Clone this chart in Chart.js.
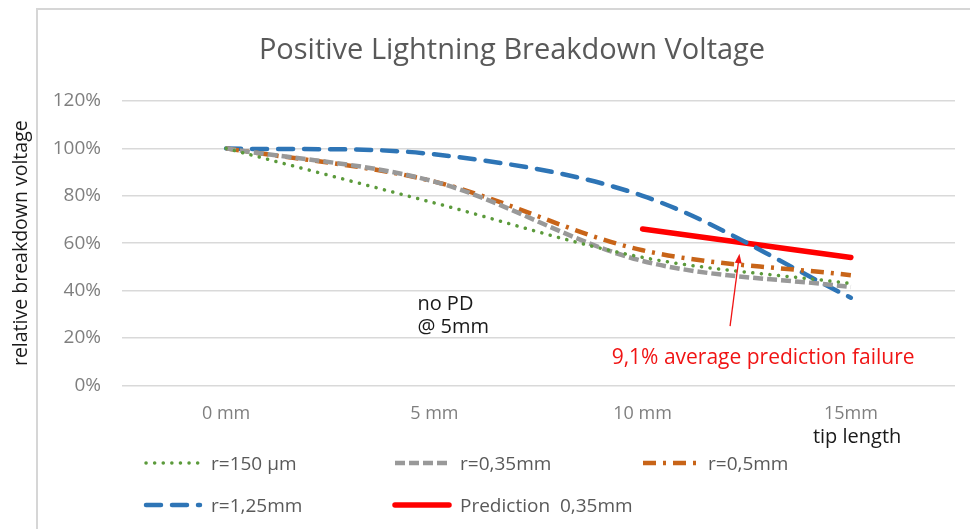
<!DOCTYPE html>
<html>
<head>
<meta charset="utf-8">
<title>Positive Lightning Breakdown Voltage</title>
<script src="https://cdn.jsdelivr.net/npm/chart.js@4.4.1/dist/chart.umd.min.js"></script>
<style>
    html, body { margin: 0; padding: 0; background: #fff; }
    #wrap { position: relative; width: 970px; height: 529px; overflow: hidden; }
    #frame {
        position: absolute; left: 36px; top: 8px; width: 980px; height: 560px;
        border-left: 2px solid #d6d6d6; border-top: 2px solid #d6d6d6;
    }
    #chart { position: absolute; left: 0; top: 0; }
    #legend { position: absolute; left: 0; top: 0; width: 970px; height: 529px; pointer-events: none; }
    .item {
        position: absolute; display: flex; align-items: center; gap: 8px;
        transform: translateY(-50%);
        font-family: "Open Sans", sans-serif; font-size: 19px; color: #595959;
        white-space: pre;
    }
    .item svg { display: block; }
</style>
</head>
<body>
<div id="wrap">
    <div id="frame"></div>
    <canvas id="chart" width="970" height="529"></canvas>
    <div id="legend"></div>
</div>
<script>
(function () {
    'use strict';

    // data (percent of the 0 mm value)
    var categories = ['0 mm', '5 mm', '10 mm', '15mm'];
    var r150um = [100, 77, 54, 43];
    var r035mm = [100, 86, 52.5, 41.5];
    var r05mm = [100, 86, 57, 46.5];
    var r125mm = [100, 97.5, 80, 37];
    var prediction035 = [null, null, 66, 54];
    var yTicks = [0, 20, 40, 60, 80, 100, 120];

    var FONT = '"Open Sans", sans-serif';

    // legend grid (Excel style, 3 columns)
    var legendCols = [143, 392, 640];
    var legendRows = [463, 505];

    // annotations, in data units (x = category index, y = percent)
    var arrowFrom = { x: 2.42, y: 25 };
    var arrowTo = { x: 2.465, y: 55.5 };

    var notes = {
        id: 'notes',
        afterDraw: function (chart) {
            var ctx = chart.ctx;
            var xs = chart.scales.x;
            var ys = chart.scales.y;
            var step = xs.getPixelForValue(3) - xs.getPixelForValue(2);
            ctx.save();

            // chart title
            ctx.fillStyle = '#595959';
            ctx.font = '29px ' + FONT;
            ctx.textAlign = 'center';
            ctx.textBaseline = 'middle';
            ctx.fillText('Positive Lightning Breakdown Voltage', 512, 51);

            // "no PD @ 5mm"
            ctx.fillStyle = '#1a1a1a';
            ctx.font = '20px ' + FONT;
            ctx.textAlign = 'left';
            var nx = xs.getPixelForValue(1) - 17;
            ctx.fillText('no PD', nx, ys.getPixelForValue(34.3));
            ctx.fillText('@ 5mm', nx, ys.getPixelForValue(24.6));

            // x axis title near the last category
            ctx.fillText('tip length', xs.getPixelForValue(3) - 38, 437);

            // prediction failure note
            ctx.fillStyle = '#f01414';
            ctx.font = '21px ' + FONT;
            ctx.fillText('9,1% average prediction failure', xs.getPixelForValue(2) - 31, ys.getPixelForValue(11.4));

            // arrow
            var x0 = xs.getPixelForValue(2) + step * (arrowFrom.x - 2);
            var x1 = xs.getPixelForValue(2) + step * (arrowTo.x - 2);
            var y0 = ys.getPixelForValue(arrowFrom.y);
            var y1 = ys.getPixelForValue(arrowTo.y);
            var a = Math.atan2(y1 - y0, x1 - x0);
            ctx.strokeStyle = '#f01414';
            ctx.fillStyle = '#f01414';
            ctx.lineWidth = 1.3;
            ctx.beginPath();
            ctx.moveTo(x0, y0);
            ctx.lineTo(x1 - Math.cos(a) * 6, y1 - Math.sin(a) * 6);
            ctx.stroke();
            ctx.beginPath();
            ctx.moveTo(x1, y1);
            ctx.lineTo(x1 - Math.cos(a - 0.35) * 10, y1 - Math.sin(a - 0.35) * 10);
            ctx.lineTo(x1 - Math.cos(a + 0.35) * 10, y1 - Math.sin(a + 0.35) * 10);
            ctx.closePath();
            ctx.fill();

            ctx.restore();
        }
    };

    function line(label, data, color, width, dash, cap) {
        return {
            label: label,
            data: data,
            borderColor: color,
            backgroundColor: color,
            borderWidth: width,
            borderDash: dash,
            borderCapStyle: cap,
            pointRadius: 0,
            tension: 0.33,
            fill: false
        };
    }

    var chart = new Chart(document.getElementById('chart'), {
        type: 'line',
        data: {
            labels: categories,
            datasets: [
                line('r=150 µm', r150um, '#5b9a3b', 3.5, [0.1, 8.5], 'round'),
                line('r=0,35mm', r035mm, '#999999', 4.5, [10, 4], 'butt'),
                line('r=0,5mm', r05mm, '#c86418', 4.5, [13, 7, 3, 7], 'butt'),
                line('r=1,25mm', r125mm, '#2e75b6', 4.5, [15, 11], 'round'),
                line('Prediction  0,35mm', prediction035, '#ff0000', 5.5, [], 'round')
            ]
        },
        options: {
            responsive: false,
            animation: false,
            layout: { padding: { top: 101, right: 15, bottom: 94, left: 0 } },
            plugins: {
                legend: { display: false },
                title: { display: false },
                tooltip: { enabled: false }
            },
            scales: {
                x: {
                    offset: true,
                    grid: { display: false },
                    border: { display: false },
                    ticks: {
                        color: '#7f7f7f',
                        font: { family: FONT, size: 18 },
                        padding: 10,
                        maxRotation: 0
                    }
                },
                y: {
                    min: 0,
                    max: 120,
                    afterBuildTicks: function (scale) {
                        scale.ticks = yTicks.map(function (v) { return { value: v }; });
                    },
                    afterFit: function (scale) {
                        scale.width = 122;
                    },
                    grid: { color: '#d9d9d9', lineWidth: 1.5, drawTicks: false },
                    border: { display: false },
                    ticks: {
                        color: '#7f7f7f',
                        font: { family: FONT, size: 19 },
                        padding: 21,
                        callback: function (v) { return v + '%'; }
                    },
                    title: {
                        display: true,
                        text: 'relative breakdown voltage',
                        color: '#1a1a1a',
                        font: { family: FONT, size: 19.5 },
                        padding: { top: 10, bottom: 0 }
                    }
                }
            }
        },
        plugins: [notes]
    });

    // Excel-like legend grid below the plot
    var box = document.getElementById('legend');
    chart.data.datasets.forEach(function (ds, i) {
        var item = document.createElement('div');
        item.className = 'item';
        item.style.left = legendCols[i % 3] + 'px';
        item.style.top = legendRows[Math.floor(i / 3)] + 'px';
        var dash = ds.borderDash.length ? ds.borderDash.join(' ') : 'none';
        item.innerHTML =
            '<svg width="60" height="10"><line x1="3" y1="5" x2="57" y2="5" stroke="' + ds.borderColor +
            '" stroke-width="' + ds.borderWidth + '" stroke-linecap="' + ds.borderCapStyle +
            '" stroke-dasharray="' + dash + '"/></svg><span>' + ds.label + '</span>';
        box.appendChild(item);
    });
})();
</script>
</body>
</html>
